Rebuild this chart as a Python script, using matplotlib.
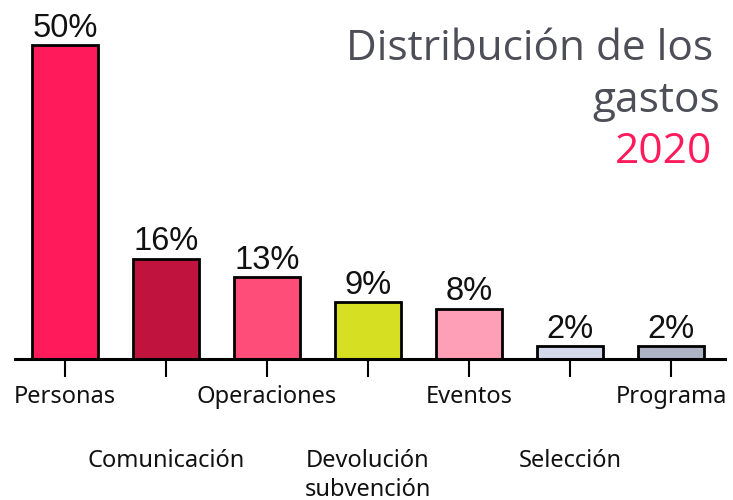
import matplotlib
matplotlib.use("Agg")
import matplotlib.pyplot as plt

categories = ["Personas", "Comunicación", "Operaciones", "Devolución\nsubvención",
              "Eventos", "Selección", "Programa"]
values = [50, 16, 13, 9, 8, 2, 2]
value_labels = ["50%", "16%", "13%", "9%", "8%", "2%", "2%"]
colors = ["#FF1B5B", "#C0143F", "#FF4D79", "#D6DF22", "#FF9EB7", "#D3D8EB", "#AEB4C6"]

plt.rcParams['font.family'] = ['Noto Sans', 'DejaVu Sans']

fig = plt.figure(figsize=(7.33, 5.0), dpi=100)
ax = fig.add_axes([15/733, 1 - 359/500, (725-15)/733, 359/500])

x = list(range(len(categories)))
bars = ax.bar(x, values, width=0.65, color=colors, edgecolor="black", linewidth=2, zorder=2)
for xi, v, lab in zip(x, values, value_labels):
    ax.annotate(lab, (xi, v), xytext=(0, 1), textcoords="offset points",
                ha="center", va="bottom", fontsize=23.5, color="#111111",
                family=["Liberation Sans", "DejaVu Sans"])

ax.set_xlim(-0.495, 6.535)
ax.set_ylim(0, 359/6.28)
for s in ["top", "right", "left"]:
    ax.spines[s].set_visible(False)
ax.spines["bottom"].set_linewidth(2.2)
ax.spines["bottom"].set_zorder(3)
ax.set_yticks([])
ax.set_xticks(x)
ax.set_xticklabels([])
ax.tick_params(axis="x", length=13, width=1.5, color="black")

for i, (xi, lab) in enumerate(zip(x, categories)):
    off = -19 if i % 2 == 0 else -64.5
    ax.annotate(lab, (xi, 0), xycoords=("data", "axes fraction"), xytext=(0, off),
                textcoords="offset points", ha="center", va="top",
                fontsize=17, color="#111111", linespacing=1.3,
                annotation_clip=False)

fig.text(713/733, 1 - 49/500, "Distribución de los", ha="right", va="center",
         fontsize=30.5, color="#4D4E57", family=["Open Sans", "DejaVu Sans"])
fig.text(720/733, 1 - 101/500, "gastos", ha="right", va="center",
         fontsize=30.5, color="#4D4E57", family=["Open Sans", "DejaVu Sans"])
fig.text(712/733, 1 - 152/500, "2020", ha="right", va="center",
         fontsize=30.5, color="#FF1B5B", family=["Open Sans", "DejaVu Sans"])

fig.savefig("out.png", dpi=100)
